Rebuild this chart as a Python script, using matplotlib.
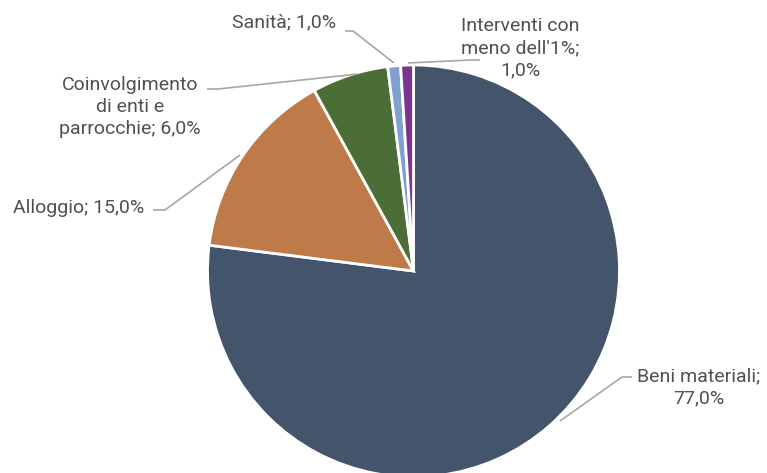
import matplotlib
matplotlib.use("Agg")
import matplotlib.pyplot as plt

categories = ["Beni materiali", "Alloggio", "Coinvolgimento\ndi enti e\nparrocchie",
              "Sanità", "Interventi con\nmeno dell'1%"]
values = [77.0, 15.0, 6.0, 1.0, 1.0]
colors = ["#44546A", "#BF7A4A", "#4A6E35", "#7FA0D0", "#7B3590"]

W, H = 767, 473
fig = plt.figure(figsize=(W / 100, H / 100), dpi=100)
ax = fig.add_axes([0, 0, 1, 1])

cx, cy, r = 413.5, H - 271, 206
wedges, _ = ax.pie(values, colors=colors, startangle=90, counterclock=False,
                   center=(cx, cy), radius=r, frame=True,
                   wedgeprops=dict(edgecolor="white", linewidth=2))
ax.set_xlim(0, W)
ax.set_ylim(0, H)
ax.set_aspect("equal")
ax.axis("off")

def fmt(v):
    return f"{v:.1f}".replace(".", ",") + "%"

labels = [
    "Beni materiali;\n" + fmt(values[0]),
    "Alloggio; " + fmt(values[1]),
    "Coinvolgimento\ndi enti e\nparrocchie; " + fmt(values[2]),
    "Sanità; " + fmt(values[3]),
    "Interventi con\nmeno dell'1%;\n" + fmt(values[4]),
]

# text centre (px), leader points (px)
text_pos = [(699, 387), (79, 208), (130, 107), (284, 22), (520, 48)]
leaders = [
    [(632, 377), (622, 377), (560, 421)],
    [(153, 210), (165, 210), (240, 155)],
    [(207, 89), (218, 89), (358, 74)],
    [(345, 31), (353, 31), (394, 63)],
    [(480, 60), (470, 60), (408, 63)],
]

txt_color = "#505050"
for lab, (tx, ty), pts in zip(labels, text_pos, leaders):
    ax.text(tx, H - ty, lab, ha="center", va="center", fontsize=14,
            color=txt_color, family="Roboto", linespacing=1.3)
    xs = [p[0] for p in pts]
    ys = [H - p[1] for p in pts]
    ax.plot(xs, ys, color="#A6A6A6", linewidth=1.2, solid_capstyle="butt")

fig.savefig("out.png", dpi=100, facecolor="white")
